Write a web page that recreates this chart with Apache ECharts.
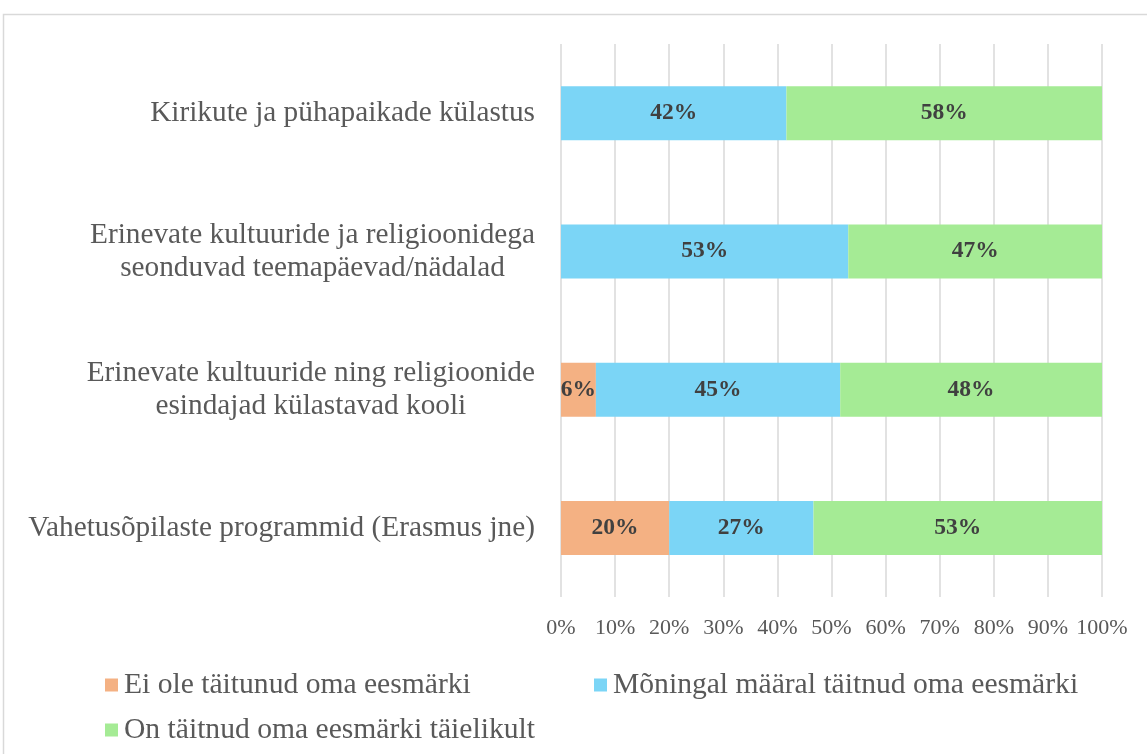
<!DOCTYPE html>
<html>
<head>
<meta charset="utf-8">
<script src="https://cdn.jsdelivr.net/npm/echarts@6/dist/echarts.min.js"></script>
<style>
  html, body { margin: 0; padding: 0; background: #fff; }
  #chart { width: 1147px; height: 754px; }
</style>
</head>
<body>
<div id="chart"></div>
<script>
// categories, top to bottom
var categories = [
    'Kirikute ja pühapaikade külastus',
    'Erinevate kultuuride ja religioonidega\nseonduvad teemapäevad/nädalad',
    'Erinevate kultuuride ning religioonide\nesindajad külastavad kooli',
    'Vahetusõpilaste programmid (Erasmus jne)'
];
var seriesNames = [
    'Ei ole täitunud oma eesmärki',
    'Mõningal määral täitnud oma eesmärki',
    'On täitnud oma eesmärki täielikult'
];
var notFulfilled = [0, 0, 6.45, 20];
var partlyFulfilled = [41.67, 53.1, 45.16, 26.67];
var fullyFulfilled = [58.33, 46.9, 48.39, 53.33];
var xTicks = [0, 10, 20, 30, 40, 50, 60, 70, 80, 90, 100];

var colors = ['#F4B183', '#7BD5F6', '#A5EB95'];
var serif = '"Liberation Serif", "Times New Roman", serif';

var chart = echarts.init(document.getElementById('chart'));

function barSeries (idx, values) {
    return {
        name: seriesNames[idx],
        type: 'bar',
        stack: 'total',
        barWidth: 54,
        itemStyle: { color: colors[idx] },
        label: {
            show: true,
            position: 'inside',
            fontFamily: serif,
            fontWeight: 'bold',
            fontSize: 23.5,
            color: '#404040',
            formatter: function (p) {
                return p.value > 0 ? Math.round(p.value) + '%' : '';
            }
        },
        data: values
    };
}

function legendFor (idx, left, top) {
    return {
        data: [seriesNames[idx]],
        left: left,
        top: top,
        icon: 'rect',
        itemWidth: 13,
        itemHeight: 13,
        itemGap: 0,
        textStyle: { fontFamily: serif, fontSize: 29.6, color: '#595959', padding: [0, 0, 0, 1] }
    };
}

chart.setOption({
    animation: false,
    graphic: [{
        type: 'rect',
        shape: { x: 3.5, y: 14.5, width: 1300, height: 900 },
        style: { fill: 'none', stroke: '#D9D9D9', lineWidth: 1.5 },
        silent: true
    }],
    grid: { left: 561, right: 45, top: 44, bottom: 157 },
    legend: [
        legendFor(0, 100, 665),
        legendFor(1, 589, 665),
        legendFor(2, 100, 710)
    ],
    xAxis: {
        type: 'value',
        min: 0,
        max: 100,
        interval: 10,
        axisLine: { show: false },
        axisTick: { show: false },
        splitLine: { lineStyle: { color: '#D9D9D9', width: 1.5 } },
        axisLabel: {
            margin: 20,
            fontFamily: serif,
            fontSize: 22,
            color: '#595959',
            formatter: function (v) { return xTicks.indexOf(v) >= 0 ? v + '%' : ''; }
        }
    },
    yAxis: {
        type: 'category',
        inverse: true,
        data: categories,
        axisLine: { show: false },
        axisTick: { show: false },
        axisLabel: {
            margin: 26,
            align: 'right',
            formatter: function (v) {
                return v.split('\n').map(function (s) { return '{c|' + s + '}'; }).join('\n');
            },
            rich: {
                c: {
                    align: 'center',
                    fontFamily: serif,
                    fontSize: 29.3,
                    lineHeight: 33,
                    color: '#595959'
                }
            }
        }
    },
    series: [
        barSeries(0, notFulfilled),
        barSeries(1, partlyFulfilled),
        barSeries(2, fullyFulfilled)
    ]
});
</script>
</body>
</html>
